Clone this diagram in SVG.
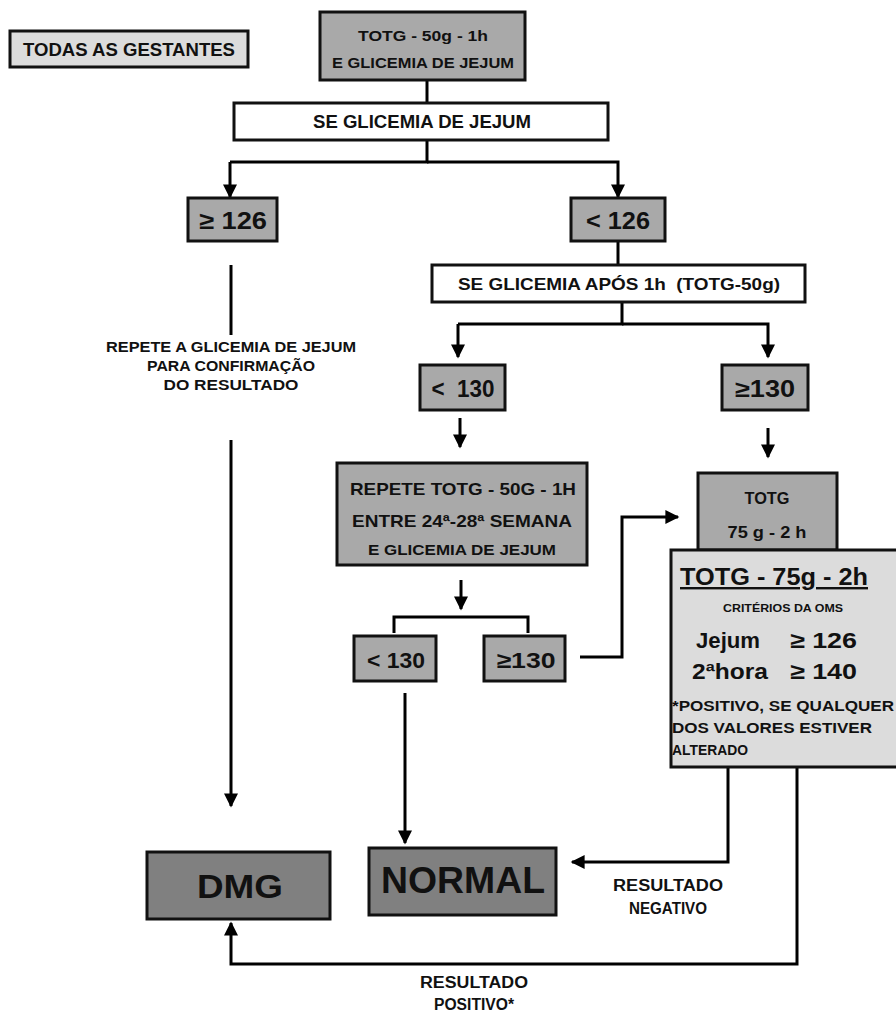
<svg xmlns="http://www.w3.org/2000/svg" width="896" height="1014" viewBox="0 0 896 1014">
<defs>
<marker id="ah" viewBox="0 0 10 10" refX="9" refY="5" markerWidth="15" markerHeight="14" markerUnits="userSpaceOnUse" orient="auto">
<path d="M0,0 L10,5 L0,10 z" fill="#000"/>
</marker>
<style>
.t{font-family:"Liberation Sans",Arial,sans-serif;font-weight:bold;fill:#111;text-anchor:middle}
.l{text-anchor:start}
.box{stroke:#111;stroke-width:3}
.mid{fill:#a9a9a9}
.dark{fill:#808080}
.light{fill:#dcdcdc}
.white{fill:#fff}
.c{fill:none;stroke:#000;stroke-width:3}
.ca{fill:none;stroke:#000;stroke-width:3;marker-end:url(#ah)}
</style>
</defs>
<rect width="896" height="1014" fill="#fff"/>

<g id="connectors">
<path class="c" d="M427,80 V103"/>
<path class="c" d="M427,140 V162 H230"/>
<path class="ca" d="M230,162 V197"/>
<path class="ca" d="M427,162 H618 V197"/>
<path class="c" d="M231,265 V335"/>
<path class="ca" d="M231,440 V806"/>
<path class="c" d="M618,241 V265"/>
<path class="c" d="M622,302 V324 H458"/>
<path class="ca" d="M458,324 V357"/>
<path class="ca" d="M622,324 H768 V357"/>
<path class="ca" d="M460,418 V447"/>
<path class="ca" d="M768,428 V457"/>
<path class="ca" d="M461,580 V609"/>
<path class="c" d="M394,633 V617 H528 V633"/>
<path class="ca" d="M580,657 H622 V517 H678" stroke-width="4"/>
<path class="ca" d="M405,693 V843"/>
<path class="ca" d="M728,767 V862 H572" stroke-width="4"/>
<path class="ca" d="M797,767 V964 H231 V923"/>
</g>

<g id="n_todas">
<rect class="box light" x="10" y="31" width="238" height="36"/>
<text class="t" x="129" y="56" font-size="19" textLength="212" lengthAdjust="spacingAndGlyphs">TODAS AS GESTANTES</text>
</g>

<g id="n_totg50">
<rect class="box mid" x="320" y="12" width="205" height="68"/>
<text class="t" x="423" y="41" font-size="15" textLength="130" lengthAdjust="spacingAndGlyphs">TOTG - 50g - 1h</text>
<text class="t" x="423" y="68" font-size="14.5" textLength="182" lengthAdjust="spacingAndGlyphs">E GLICEMIA DE JEJUM</text>
</g>

<g id="n_se_jejum">
<rect class="box white" x="234" y="103" width="374" height="37"/>
<text class="t" x="422" y="128" font-size="18" textLength="218" lengthAdjust="spacingAndGlyphs">SE GLICEMIA DE JEJUM</text>
</g>

<g id="n_ge126">
<rect class="box mid" x="188" y="198" width="89" height="43"/>
<text class="t" x="233" y="229" font-size="24" textLength="68" lengthAdjust="spacingAndGlyphs">≥ 126</text>
</g>

<g id="n_lt126">
<rect class="box mid" x="571" y="198" width="94" height="43"/>
<text class="t" x="618" y="229" font-size="24" textLength="64" lengthAdjust="spacingAndGlyphs">&lt; 126</text>
</g>

<g id="t_repete_jejum">
<text class="t" x="231" y="352" font-size="14.5" textLength="250" lengthAdjust="spacingAndGlyphs">REPETE A GLICEMIA DE JEJUM</text>
<text class="t" x="231" y="371" font-size="14.5" textLength="168" lengthAdjust="spacingAndGlyphs">PARA CONFIRMAÇÃO</text>
<text class="t" x="231" y="390" font-size="14.5" textLength="135" lengthAdjust="spacingAndGlyphs">DO RESULTADO</text>
</g>

<g id="n_se_apos">
<rect class="box white" x="432" y="265" width="373" height="37"/>
<text class="t" x="619" y="290" font-size="17" textLength="322" lengthAdjust="spacingAndGlyphs" xml:space="preserve">SE GLICEMIA APÓS 1h  (TOTG-50g)</text>
</g>

<g id="n_lt130a">
<rect class="box mid" x="420" y="365" width="85" height="45"/>
<text class="t" x="463" y="397" font-size="23" textLength="63" lengthAdjust="spacingAndGlyphs" xml:space="preserve">&lt;  130</text>
</g>

<g id="n_ge130a">
<rect class="box mid" x="722" y="365" width="86" height="45"/>
<text class="t" x="765" y="397" font-size="23" textLength="60" lengthAdjust="spacingAndGlyphs">≥130</text>
</g>

<g id="n_repete_totg">
<rect class="box mid" x="337" y="463" width="250" height="102"/>
<text class="t" x="463" y="495" font-size="17" textLength="226" lengthAdjust="spacingAndGlyphs">REPETE TOTG - 50G - 1H</text>
<text class="t" x="462" y="527" font-size="17" textLength="220" lengthAdjust="spacingAndGlyphs">ENTRE 24ª-28ª SEMANA</text>
<text class="t" x="462" y="555" font-size="15" textLength="188" lengthAdjust="spacingAndGlyphs">E GLICEMIA DE JEJUM</text>
</g>

<g id="n_lt130b">
<rect class="box mid" x="354" y="636" width="82" height="45"/>
<text class="t" x="396" y="668" font-size="22" textLength="58" lengthAdjust="spacingAndGlyphs">&lt; 130</text>
</g>

<g id="n_ge130b">
<rect class="box mid" x="484" y="636" width="81" height="45"/>
<text class="t" x="526" y="668" font-size="22" textLength="59" lengthAdjust="spacingAndGlyphs">≥130</text>
</g>

<g id="n_totg75">
<rect class="box mid" x="698" y="473" width="139" height="77"/>
<text class="t" x="767" y="504" font-size="16" textLength="45" lengthAdjust="spacingAndGlyphs">TOTG</text>
<text class="t" x="767" y="538" font-size="16" textLength="79" lengthAdjust="spacingAndGlyphs">75 g - 2 h</text>
</g>

<g id="n_criterios">
<rect class="box light" x="671" y="550" width="240" height="217"/>
<text class="t" x="774" y="585" font-size="24" font-weight="normal" textLength="188" lengthAdjust="spacingAndGlyphs" text-decoration="underline">TOTG - 75g - 2h</text>
<text class="t" x="783" y="612" font-size="11.5" textLength="120" lengthAdjust="spacingAndGlyphs">CRITÉRIOS DA OMS</text>
<text class="t l" x="696" y="648" font-size="22" textLength="64" lengthAdjust="spacingAndGlyphs">Jejum</text>
<text class="t l" x="790" y="648" font-size="22" textLength="67" lengthAdjust="spacingAndGlyphs">≥ 126</text>
<text class="t l" x="692" y="679" font-size="22" textLength="76" lengthAdjust="spacingAndGlyphs">2ªhora</text>
<text class="t l" x="790" y="679" font-size="22" textLength="67" lengthAdjust="spacingAndGlyphs">≥ 140</text>
<text class="t l" x="672" y="711" font-size="14.5" textLength="222" lengthAdjust="spacingAndGlyphs">*POSITIVO, SE QUALQUER</text>
<text class="t l" x="672" y="733" font-size="14.5" textLength="200" lengthAdjust="spacingAndGlyphs">DOS VALORES ESTIVER</text>
<text class="t l" x="672" y="755" font-size="14.5" textLength="76" lengthAdjust="spacingAndGlyphs">ALTERADO</text>
</g>

<g id="n_dmg">
<rect class="box dark" x="147" y="852" width="183" height="67"/>
<text class="t" x="240" y="898" font-size="34" textLength="86" lengthAdjust="spacingAndGlyphs">DMG</text>
</g>

<g id="n_normal">
<rect class="box dark" x="369" y="848" width="187" height="67"/>
<text class="t" x="463" y="893" font-size="36" textLength="164" lengthAdjust="spacingAndGlyphs">NORMAL</text>
</g>

<g id="t_negativo">
<text class="t" x="668" y="891" font-size="16" textLength="110" lengthAdjust="spacingAndGlyphs">RESULTADO</text>
<text class="t" x="668" y="914" font-size="16" textLength="78" lengthAdjust="spacingAndGlyphs">NEGATIVO</text>
</g>

<g id="t_positivo">
<text class="t" x="474" y="988" font-size="16" textLength="108" lengthAdjust="spacingAndGlyphs">RESULTADO</text>
<text class="t" x="474" y="1010" font-size="16" textLength="80" lengthAdjust="spacingAndGlyphs">POSITIVO*</text>
</g>
</svg>
